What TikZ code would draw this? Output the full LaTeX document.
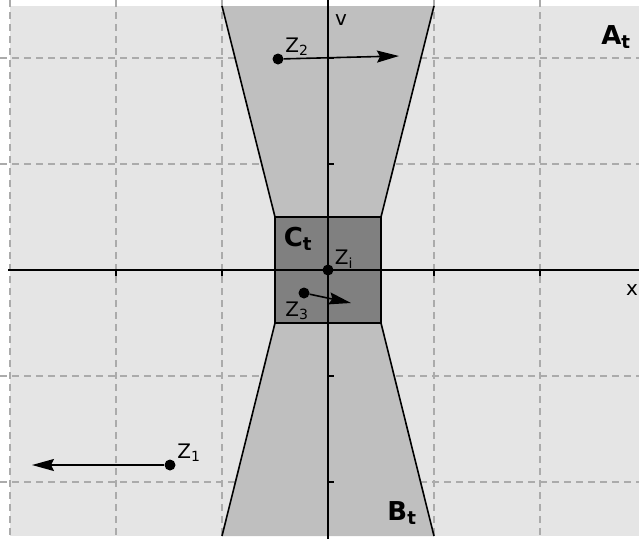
\documentclass[tikz,border=0pt]{standalone}
\usepackage{fontspec}
\setmainfont{DejaVu Sans}
\usetikzlibrary{arrows.meta}
\definecolor{bgc}{HTML}{E5E5E5}
\definecolor{func}{HTML}{BFBFBF}
\definecolor{sqc}{HTML}{808080}
\definecolor{gridc}{HTML}{ABABAB}
\begin{document}
\begin{tikzpicture}[x=1pt,y=-1pt,
  gridline/.style={gridc, line width=1.1pt, dash pattern=on 7pt off 5pt},
  edge/.style={black, line width=1.6pt},
  dot/.style={circle, fill=black, inner sep=0pt, minimum size=11pt},
  lbl/.style={font=\fontsize{20}{20}\selectfont, inner sep=1pt},
  big/.style={font=\fontsize{26}{26}\selectfont\bfseries, inner sep=1pt},
  vec/.style={line width=1.6pt, -{Stealth[length=22pt,width=12pt,inset=3pt]}},
  tick/.style={line width=1.2pt}]
\useasboundingbox (0,0) rectangle (639,539);
\fill[bgc] (10,6) rectangle (639,536);
% grid
\foreach \gx in {10,116,222,434,540} \draw[gridline] (\gx,0) -- (\gx,539);
\foreach \gy in {58,164,376,482} \draw[gridline] (0,\gy) -- (639,\gy);
% funnels
\fill[func] (222,6) -- (434,6) -- (381,217) -- (275,217) -- cycle;
\fill[func] (275,323) -- (381,323) -- (434,536) -- (222,536) -- cycle;
\draw[edge] (222,6) -- (275,217);
\draw[edge] (434,6) -- (381,217);
\draw[edge] (275,323) -- (222,536);
\draw[edge] (381,323) -- (434,536);
% square
\draw[edge, fill=sqc] (275,217) rectangle (381,323);
% axes
\draw[edge] (8,270) -- (639,270);
\draw[edge] (328,0) -- (328,539);
\foreach \gx in {116,222,434,540} \draw[tick] (\gx,270) -- (\gx,276);
\foreach \gy in {58,164,376,482} \draw[tick] (328,\gy) -- (334,\gy);
\node[lbl] (xl) at (632,290) {x};
\node[lbl] (vl) at (341,20) {v};
% labels
\node[big] (At) at (616,37) {A\textsubscript{t}};
\node[big] (Bt) at (402,513) {B\textsubscript{t}};
\node[big] (Ct) at (298,239) {C\textsubscript{t}};
% points
\node[dot] (z2) at (278,59) {};
\coordinate (z2e) at (399,56);
\draw[vec] (z2) -- (z2e);
\node[lbl] (z2l) at (297,47) {Z\textsubscript{2}};
\node[dot] (zi) at (328,270) {};
\node[lbl] (zil) at (344,259) {Z\textsubscript{i}};
\node[dot] (z3) at (304,293) {};
\coordinate (z3e) at (351,303);
\draw[vec] (z3) -- (z3e);
\node[lbl] (z3l) at (297,311) {Z\textsubscript{3}};
\node[dot] (z1) at (170,465) {};
\coordinate (z1e) at (32,465);
\draw[vec] (z1) -- (z1e);
\node[lbl] (z1l) at (189,453) {Z\textsubscript{1}};
\end{tikzpicture}
\end{document}
